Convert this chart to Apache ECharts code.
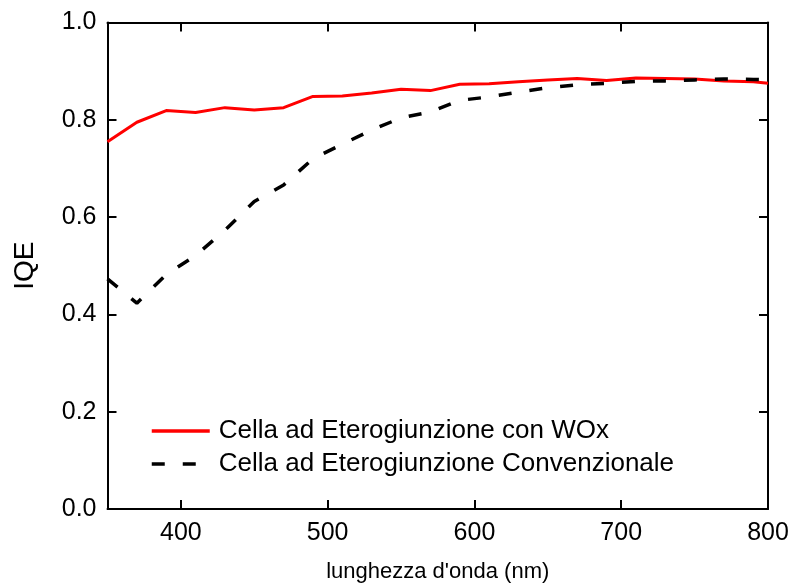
<!DOCTYPE html>
<html>
<head>
<meta charset="utf-8">
<script src="https://cdn.jsdelivr.net/npm/echarts@6/dist/echarts.min.js"></script>
<style>html,body{margin:0;padding:0;background:#fff}#c{width:792px;height:588px}</style>
</head>
<body>
<div id="c"></div>
<script>
const wavelength = [350,370,390,410,430,450,470,490,510,530,550,570,590,610,630,650,670,690,710,730,750,770,790,800];
const iqeWOx = [0.755,0.795,0.819,0.815,0.825,0.820,0.825,0.848,0.849,0.855,0.863,0.860,0.873,0.874,0.878,0.882,0.885,0.881,0.886,0.885,0.884,0.880,0.878,0.875];
const iqeConv = [0.473,0.423,0.482,0.521,0.573,0.632,0.666,0.720,0.750,0.779,0.804,0.816,0.840,0.847,0.857,0.866,0.872,0.875,0.879,0.880,0.882,0.884,0.883,0.882];
const xTicks = [400,500,600,700,800];
const yTicks = [0,0.2,0.4,0.6,0.8,1.0];
const seriesNames = ['Cella ad Eterogiunzione con WOx','Cella ad Eterogiunzione Convenzionale'];

const FONT = 'Liberation Sans, Arial, sans-serif';
const chart = echarts.init(document.getElementById('c'), null, {renderer:'canvas'});
const axisLine = {show:true, onZero:false, lineStyle:{color:'#000', width:2}};
const tick = {show:true, inside:true, length:9, lineStyle:{color:'#000', width:2}};
function pairs(xs, ys){ return xs.map((x,i)=>[x, ys[i]]); }
chart.setOption({
  animation:false,
  backgroundColor:'#fff',
  grid:{left:107.5, right:24, top:22.5, bottom:78, containLabel:false},
  legend:{
    orient:'vertical', left:145, top:413, itemWidth:58, itemHeight:14, itemGap:7,
    itemStyle:{opacity:0},
    lineStyle:{width:3.5},
    textStyle:{fontFamily:FONT, fontSize:26, color:'#000', lineHeight:26, padding:[0,0,0,4]},
    data:seriesNames
  },
  xAxis:[{
    type:'value', min:350, max:800, position:'bottom',
    name:"lunghezza d'onda (nm)", nameLocation:'middle', nameGap:52,
    nameTextStyle:{fontFamily:FONT, fontSize:22, color:'#000'},
    axisLine:axisLine,
    axisTick:Object.assign({customValues:xTicks}, tick),
    axisLabel:{customValues:xTicks, fontFamily:FONT, fontSize:25, color:'#000', margin:12},
    splitLine:{show:false}
  },{
    type:'value', min:350, max:800, position:'top',
    axisLine:axisLine,
    axisTick:Object.assign({customValues:xTicks}, tick),
    axisLabel:{show:false, customValues:xTicks},
    splitLine:{show:false}
  }],
  yAxis:[{
    type:'value', min:0, max:1, position:'left',
    name:'IQE', nameLocation:'middle', nameGap:68,
    nameTextStyle:{fontFamily:FONT, fontSize:28, color:'#000'},
    axisLine:axisLine,
    axisTick:Object.assign({customValues:yTicks}, tick),
    axisLabel:{customValues:yTicks, fontFamily:FONT, fontSize:25, color:'#000', margin:11, formatter:v=>v.toFixed(1)},
    splitLine:{show:false}
  },{
    type:'value', min:0, max:1, position:'right',
    axisLine:axisLine,
    axisTick:Object.assign({customValues:yTicks}, tick),
    axisLabel:{show:false, customValues:yTicks},
    splitLine:{show:false}
  }],
  series:[{
    name:seriesNames[0], type:'line', symbol:'none', showSymbol:false,
    data:pairs(wavelength, iqeWOx),
    lineStyle:{color:'#ff0000', width:3},
    itemStyle:{color:'#ff0000'}
  },{
    name:seriesNames[1], type:'line', symbol:'none', showSymbol:false,
    data:pairs(wavelength, iqeConv),
    lineStyle:{color:'#000', width:3.5, type:[13,18], cap:'butt'},
    itemStyle:{color:'#000'}
  }]
});
</script>
</body>
</html>
